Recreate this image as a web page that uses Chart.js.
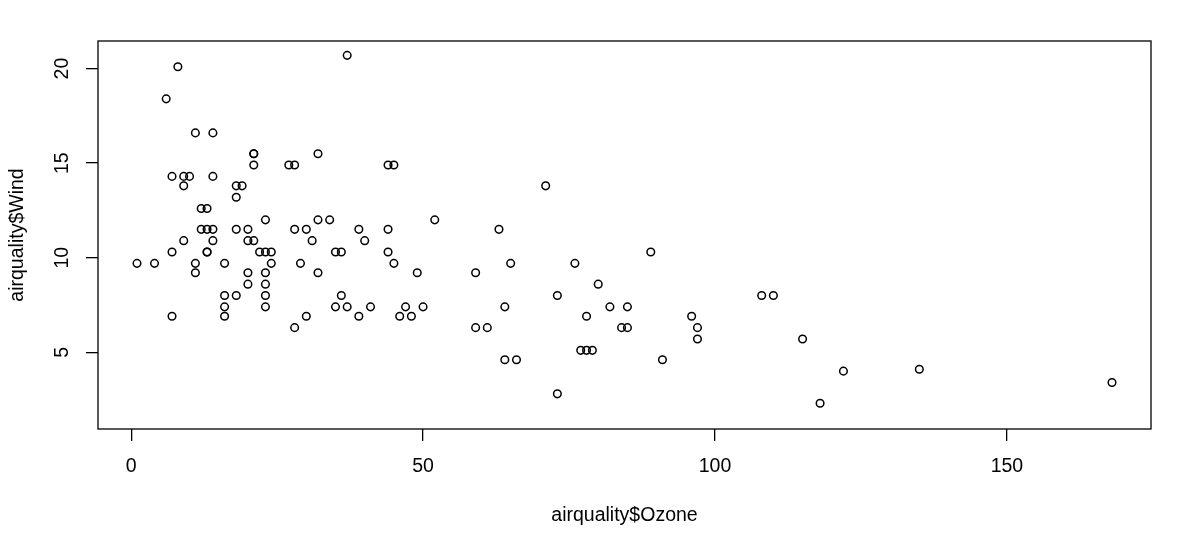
<!DOCTYPE html>
<html>
<head>
<meta charset="utf-8">
<script src="https://cdn.jsdelivr.net/npm/chart.js@4"></script>
<style>
  html, body { margin: 0; padding: 0; background: #fff; }
  #wrap { width: 1200px; height: 542px; }
</style>
</head>
<body>
<div id="wrap"><canvas id="myScatter" width="1200" height="542"></canvas></div>
<script>
// airquality rows where Ozone is not NA
let ozone = [41, 36, 12, 18, 28, 23, 19, 8, 7, 16, 11, 14, 18, 14, 34, 6, 30, 11, 1, 11, 4, 32, 23, 45, 115, 37, 29, 71, 39, 23, 21, 37, 20, 12, 13, 135, 49, 32, 64, 40, 77, 97, 97, 85, 10, 27, 7, 48, 35, 61, 79, 63, 16, 80, 108, 20, 52, 82, 50, 64, 59, 39, 9, 16, 78, 35, 66, 122, 89, 110, 44, 28, 65, 22, 59, 23, 31, 44, 21, 9, 45, 168, 73, 76, 118, 84, 85, 96, 78, 73, 91, 47, 32, 20, 23, 21, 24, 44, 21, 28, 9, 13, 46, 18, 13, 24, 16, 13, 23, 36, 7, 14, 30, 14, 18, 20];
let wind = [7.4, 8.0, 12.6, 11.5, 14.9, 8.6, 13.8, 20.1, 6.9, 9.7, 9.2, 10.9, 13.2, 11.5, 12.0, 18.4, 11.5, 9.7, 9.7, 16.6, 9.7, 12.0, 12.0, 14.9, 5.7, 7.4, 9.7, 13.8, 11.5, 8.0, 14.9, 20.7, 9.2, 11.5, 10.3, 4.1, 9.2, 9.2, 4.6, 10.9, 5.1, 6.3, 5.7, 7.4, 14.3, 14.9, 14.3, 6.9, 10.3, 6.3, 5.1, 11.5, 6.9, 8.6, 8.0, 8.6, 12.0, 7.4, 7.4, 7.4, 9.2, 6.9, 13.8, 7.4, 6.9, 7.4, 4.6, 4.0, 10.3, 8.0, 11.5, 11.5, 9.7, 10.3, 6.3, 7.4, 10.9, 10.3, 15.5, 14.3, 9.7, 3.4, 8.0, 9.7, 2.3, 6.3, 6.3, 6.9, 5.1, 2.8, 4.6, 7.4, 15.5, 10.9, 10.3, 10.9, 9.7, 14.9, 15.5, 6.3, 10.9, 11.5, 6.9, 13.8, 10.3, 10.3, 8.0, 12.6, 9.2, 10.3, 10.3, 16.6, 6.9, 14.3, 8.0, 11.5];
let xTicks = [0, 50, 100, 150];
let yTicks = [5, 10, 15, 20];
let xTitle = 'airquality$Ozone';
let yTitle = 'airquality$Wind';

const FONT = '19.5px "Liberation Sans", Arial, sans-serif';

// box, rotated y labels, titles (R base graphics look)
const rStyle = {
    id: 'rStyle',
    afterDraw(chart) {
        const ctx = chart.ctx;
        const a = chart.chartArea;
        const xs = chart.scales.x, ys = chart.scales.y;
        ctx.save();
        ctx.strokeStyle = '#000';
        ctx.lineWidth = 1.3;
        ctx.strokeRect(a.left, a.top, a.right - a.left, a.bottom - a.top);
        ctx.fillStyle = '#000';
        ctx.font = FONT;
        ctx.textAlign = 'center';
        ctx.textBaseline = 'middle';
        xTicks.forEach(v => ctx.fillText(String(v), xs.getPixelForValue(v), 467));
        ctx.fillText(xTitle, (a.left + a.right) / 2, 516);
        yTicks.forEach(v => {
            ctx.save();
            ctx.translate(63, ys.getPixelForValue(v));
            ctx.rotate(-Math.PI / 2);
            ctx.fillText(String(v), 0, 0);
            ctx.restore();
        });
        ctx.translate(18, (a.top + a.bottom) / 2);
        ctx.rotate(-Math.PI / 2);
        ctx.fillText(yTitle, 0, 0);
        ctx.restore();
    }
};

let pts = ozone.map((o, i) => ({ x: o, y: wind[i] }));
let myChart = document.getElementById('myScatter').getContext('2d');
let chart = new Chart(myChart, {
    type: 'scatter',
    data: {
        datasets: [{
            data: pts,
            pointRadius: 3.8,
            pointBorderWidth: 1.5,
            pointBorderColor: '#000',
            pointBackgroundColor: 'rgba(0,0,0,0)'
        }]
    },
    options: {
        responsive: false,
        animation: false,
        layout: { padding: { left: 0, top: 41, right: 49, bottom: 0 } },
        plugins: { legend: { display: false }, tooltip: { enabled: false } },
        scales: {
            x: {
                type: 'linear',
                min: -5.68,
                max: 174.68,
                afterBuildTicks: s => { s.ticks = xTicks.map(v => ({ value: v })); },
                afterFit: s => { s.height = 113; },
                ticks: { display: false },
                border: { display: false },
                grid: { drawOnChartArea: false, drawTicks: true, tickLength: 12, color: '#000', lineWidth: 1.3 }
            },
            y: {
                type: 'linear',
                min: 0.94,
                max: 21.46,
                afterBuildTicks: s => { s.ticks = yTicks.map(v => ({ value: v })); },
                afterFit: s => { s.width = 98; },
                ticks: { display: false },
                border: { display: false },
                grid: { drawOnChartArea: false, drawTicks: true, tickLength: 12, color: '#000', lineWidth: 1.3 }
            }
        }
    },
    plugins: [rStyle]
});
</script>
</body>
</html>
